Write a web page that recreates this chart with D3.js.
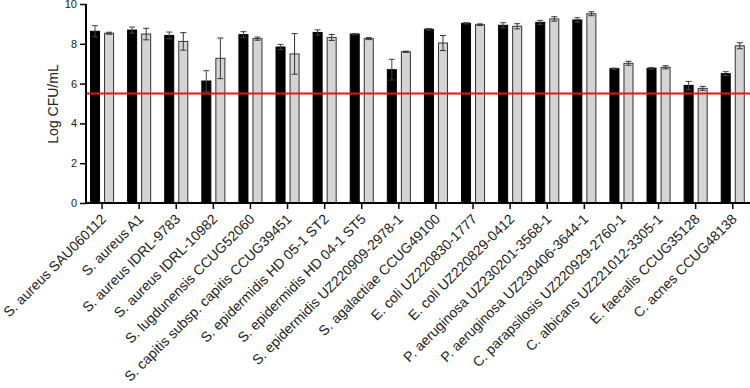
<!DOCTYPE html>
<html><head><meta charset="utf-8">
<script src="https://cdn.jsdelivr.net/npm/d3@7"></script>
<style>body{margin:0;background:#fff}svg{display:block;font-family:"Liberation Sans",Arial,sans-serif}</style>
</head><body><svg id="c" width="750" height="388"></svg>
<script>
const categories = ["S. aureus SAU060112","S. aureus A1","S. aureus IDRL-9783","S. aureus IDRL-10982","S. lugdunensis CCUG52060","S. capitis subsp. capitis CCUG39451","S. epidermidis HD 05-1 ST2","S. epidermidis HD 04-1 ST5","S. epidermidis UZ220909-2978-1","S. agalactiae CCUG49100","E. coli UZ220830-1777","E. coli UZ220829-0412","P. aeruginosa UZ230201-3568-1","P. aeruginosa UZ230406-3644-1","C. parapsilosis UZ220929-2760-1","C. albicans UZ221012-3305-1","E. faecalis CCUG35128","C. acnes CCUG48138"];
const series = ["A","B"];
const valuesA = [8.63,8.69,8.42,6.13,8.46,7.84,8.57,8.49,6.70,8.73,9.03,8.93,9.08,9.20,6.75,6.77,5.91,6.50];
const errA    = [0.28,0.15,0.17,0.52,0.15,0.13,0.13,0.03,0.52,0.04,0.03,0.13,0.10,0.11,0.03,0.04,0.20,0.10];
const valuesB = [8.53,8.49,8.12,7.27,8.26,7.49,8.32,8.26,7.60,8.04,8.96,8.88,9.25,9.51,7.02,6.82,5.76,7.90];
const errB    = [0.05,0.29,0.44,1.02,0.08,1.02,0.15,0.05,0.03,0.38,0.04,0.13,0.11,0.10,0.10,0.08,0.10,0.15];
const yTicks = [0,2,4,6,8,10];
const threshold = 5.5;
const yTitle = "Log CFU/mL";

const svg = d3.select("#c");
const x0 = 86, x1 = 750, yTop = 4, yBot = 203;
const x = d3.scaleBand().domain(categories).range([83.5, 751.3]);
const xs = d3.scaleBand().domain(series).range([0, x.bandwidth()]).paddingInner(0.357).paddingOuter(0.5);
const y = d3.scaleLinear().domain([0,10]).range([yBot, yTop]);

const data = categories.map((c,i)=>({c, vals:[{s:"A",v:valuesA[i],e:errA[i]},{s:"B",v:valuesB[i],e:errB[i]}]}));

const g = svg.append("g").selectAll("g").data(data).join("g")
  .attr("transform", d=>`translate(${x(d.c)},0)`);
g.selectAll("rect").data(d=>d.vals).join("rect")
  .attr("x", d=>xs(d.s)).attr("width", xs.bandwidth())
  .attr("y", d=>y(d.v)).attr("height", d=>yBot - y(d.v))
  .attr("fill", d=>d.s==="A"?"#000":"#d4d4d4")
  .attr("stroke", d=>d.s==="A"?"#000":"#333").attr("stroke-width",1);
// error bars
const eb = g.selectAll("g.eb").data(d=>d.vals).join("g").attr("class","eb")
  .attr("stroke", d=>d.s==="A"?"#444":"#333").attr("stroke-width",1);
eb.append("line").attr("x1",d=>xs(d.s)+xs.bandwidth()/2).attr("x2",d=>xs(d.s)+xs.bandwidth()/2)
  .attr("y1",d=>y(d.v+d.e)).attr("y2",d=>y(d.v-d.e));
eb.append("line").attr("x1",d=>xs(d.s)+xs.bandwidth()/2-3).attr("x2",d=>xs(d.s)+xs.bandwidth()/2+3)
  .attr("y1",d=>y(d.v+d.e)).attr("y2",d=>y(d.v+d.e));
eb.append("line").attr("x1",d=>xs(d.s)+xs.bandwidth()/2-3).attr("x2",d=>xs(d.s)+xs.bandwidth()/2+3)
  .attr("y1",d=>y(d.v-d.e)).attr("y2",d=>y(d.v-d.e));

// threshold
svg.append("line").attr("x1",x0).attr("x2",x1).attr("y1",y(threshold)).attr("y2",y(threshold))
  .attr("stroke","#e8141c").attr("stroke-width",2);

// y axis
const ya = svg.append("g").attr("transform",`translate(${x0},0)`)
  .call(d3.axisLeft(y).tickValues(yTicks).tickSize(6).tickPadding(3));
ya.select(".domain").attr("stroke","#000").attr("stroke-width",2).attr("d",`M0,${yTop}V${yBot}`);
ya.selectAll(".tick line").attr("stroke","#000").attr("stroke-width",1.5);
ya.selectAll("text").attr("font-size",11).attr("fill","#222");

// x axis
const xa = svg.append("g").attr("transform",`translate(0,${yBot})`)
  .call(d3.axisBottom(x).tickSize(6).tickSizeOuter(0));
xa.select(".domain").attr("stroke","#000").attr("stroke-width",2).attr("d",`M${x0},0H${x1}`);
xa.selectAll(".tick line").attr("stroke","#000").attr("stroke-width",1.5);
xa.selectAll(".tick text").attr("font-size",14).attr("fill","#222")
  .attr("text-anchor","end").attr("dy",0).attr("y",0)
  .attr("transform","translate(5,17) rotate(-45)");

// y title
svg.append("text").attr("transform",`translate(57.5,104) rotate(-90)`)
  .attr("text-anchor","middle").attr("font-size",14).attr("fill","#222").text(yTitle);
</script></body></html>
